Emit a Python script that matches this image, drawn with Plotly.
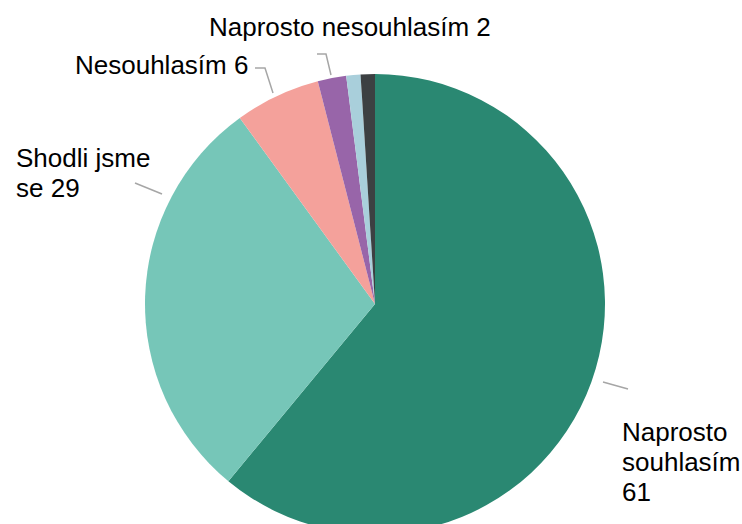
import plotly.graph_objects as go

# ---- data ----
categories = ["Naprosto souhlasím", "Shodli jsme se", "Nesouhlasím",
              "Naprosto nesouhlasím", "Jiné A", "Jiné B"]
values = [61, 29, 6, 2, 1, 1]
colors = ["#2a8872", "#76c6b8", "#f4a19b", "#9865a9", "#a9cfdb", "#3c4042"]
show_label = [True, True, True, True, False, False]

# ---- layout geometry (pixels) ----
W, H = 742, 560
ML, MR, MT, MB = 145, 137, 74, 26
PW, PH = W - ML - MR, H - MT - MB


def px(x):
    return (x - ML) / PW


def py(y):
    return (H - MB - y) / PH


fig = go.Figure(go.Pie(
    labels=categories, values=values, sort=False, direction="clockwise",
    rotation=0, textinfo="none", hoverinfo="label+value",
    marker=dict(colors=colors, line=dict(color="white", width=0)),
    showlegend=False,
))

# label text lines, broken as in the chart
label_lines = {
    0: [categories[0].split()[0], categories[0].split()[1], str(values[0])],
    1: ["Shodli jsme", "se " + str(values[1])],
    2: [categories[2] + " " + str(values[2])],
    3: [categories[3] + " " + str(values[3])],
}
label_pos = {0: (620, 432), 1: (14, 158), 2: (73, 65), 3: (207, 27)}
leaders = {
    0: [(603, 382), (628, 389)],
    1: [(135, 183), (162, 194)],
    2: [(255, 68), (265, 68), (273, 93)],
    3: [(317, 54), (326, 54), (331, 75)],
}

annotations = []
shapes = []
for i, lines in label_lines.items():
    if not show_label[i]:
        continue
    x0, y0 = label_pos[i]
    for k, line in enumerate(lines):
        annotations.append(dict(
            text=line, x=px(x0), y=py(y0 + 30 * k), xref="paper", yref="paper",
            xanchor="left", yanchor="middle", showarrow=False,
            font=dict(size=26, color="#000000",
                      family="Liberation Sans, Arial, sans-serif"),
        ))
    pts = leaders[i]
    path = "M " + " L ".join(f"{px(x)},{py(y)}" for x, y in pts)
    shapes.append(dict(type="path", path=path, xref="paper", yref="paper",
                       line=dict(color="#a6a6a6", width=1.5)))

fig.update_layout(
    width=W, height=H,
    margin=dict(l=ML, r=MR, t=MT, b=MB, autoexpand=False),
    paper_bgcolor="white", plot_bgcolor="white",
    annotations=annotations, shapes=shapes,
)

fig.write_html(
    "out.html",
    config={"displayModeBar": False},
    post_script="document.body.style.margin='0';document.body.style.overflow='hidden';",
)
